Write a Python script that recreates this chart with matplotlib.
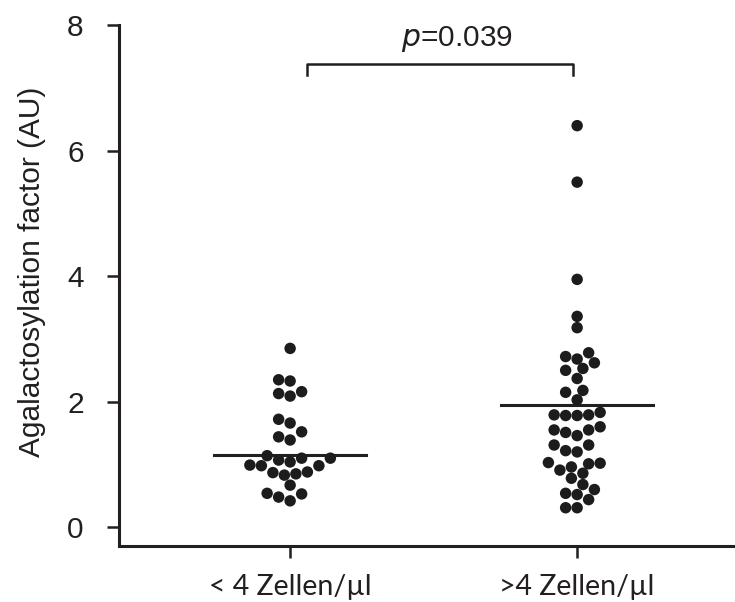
import numpy as np
import matplotlib
matplotlib.use("Agg")
import matplotlib.pyplot as plt

# values
groups = ["< 4 Zellen/\u00b5l", ">4 Zellen/\u00b5l"]
low_cells = [2.85, 2.33, 2.35, 2.16, 2.09, 2.13, 1.66, 1.72, 1.52, 1.39, 1.44,
             1.10, 1.07, 0.99, 1.04, 1.10, 1.14,
             0.98, 0.88, 0.85, 0.83, 0.87, 0.98,
             0.67, 0.54, 0.53, 0.42, 0.48]
high_cells = [6.40, 5.50, 3.95, 3.36, 3.18,
              2.78, 2.62, 2.68, 2.72, 2.53, 2.50, 2.37, 2.18, 2.15, 2.03,
              1.79, 1.79, 1.78, 1.78, 1.83,
              1.60, 1.51, 1.55, 1.55, 1.46,
              1.31, 1.31, 1.20, 1.22,
              1.03, 1.02, 0.91, 0.96, 1.01, 0.86, 0.78,
              0.68, 0.60, 0.52, 0.44, 0.54,
              0.31, 0.31]
centre_lines = [1.15, 1.95]
p_text = "$\\it{p}$=0.039"

DPI = 100
fig = plt.figure(figsize=(7.35, 6.02), dpi=DPI)
ax = fig.add_axes([0.162, 0.093, 0.838, 0.865])
ax.set_xlim(0.404, 2.55)
ax.set_ylim(-0.3, 8)

# pixel scale of the axes, used to lay out the swarm without overlaps
bbox = ax.get_position()
px_x = bbox.width * 7.35 * DPI / (2.55 - 0.404)
px_y = bbox.height * 6.02 * DPI / (8 + 0.3)
diam = 11.5  # marker diameter in px


def swarm(vals, centre):
    placed = []
    xs = np.zeros(len(vals))
    order = np.argsort(vals)
    for i in order:
        y = vals[i] * px_y
        best = None
        for k in range(0, 40):
            for sgn in ([0] if k == 0 else [-1, 1]):
                off = sgn * k * diam * 0.5
                ok = all((off - ox) ** 2 + (y - oy) ** 2 >= (diam * 0.95) ** 2
                         for ox, oy in placed)
                if ok:
                    best = off
                    break
            if best is not None:
                break
        placed.append((best, y))
        xs[i] = centre + best / px_x
    return xs


for pos, vals in zip([1, 2], [low_cells, high_cells]):
    xs = swarm(np.array(vals), pos)
    ax.scatter(xs, vals, s=68, color="#1c1c1c", edgecolors="none", zorder=3)

for pos, lvl in zip([1, 2], centre_lines):
    ax.plot([pos - 0.265, pos + 0.265], [lvl, lvl], color="#231f20", lw=2.2, zorder=2)

# significance bracket
ax.plot([1.06, 1.06, 1.985, 1.985], [7.2, 7.39, 7.39, 7.2], color="#231f20", lw=1.8,
        clip_on=False)
ax.text(1.58, 7.55, p_text, ha="center", va="bottom", fontsize=21.5,
        family="Liberation Sans", color="#231f20")

for s in ["top", "right"]:
    ax.spines[s].set_visible(False)
for s in ["left", "bottom"]:
    ax.spines[s].set_linewidth(2.2)
    ax.spines[s].set_color("#231f20")
ax.spines["left"].set_bounds(-0.3, 8)

ax.set_yticks([0, 2, 4, 6, 8])
ax.set_xticks([1, 2])
ax.set_xticklabels(groups, family="Lato", fontsize=20.5)
ax.tick_params(axis="y", length=8.5, width=1.8, pad=17, labelsize=21.5,
               colors="#231f20")
ax.tick_params(axis="x", length=8.5, width=1.8, pad=12, colors="#231f20")
for lab in ax.get_yticklabels():
    lab.set_family("Liberation Sans")
ax.set_ylabel("Agalactosylation factor (AU)", family="Liberation Sans",
              fontsize=21.5, color="#231f20")
ax.yaxis.set_label_coords(-0.118, 0.527)

fig.savefig("out.png", dpi=DPI)
